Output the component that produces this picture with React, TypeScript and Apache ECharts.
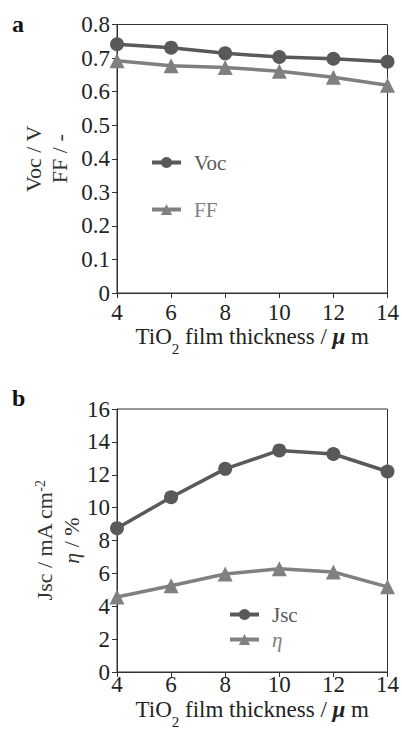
import React, { useEffect, useRef } from "react";
import * as echarts from "echarts";

const thickness = [4, 6, 8, 10, 12, 14];
const vocValues = [0.741, 0.731, 0.714, 0.703, 0.698, 0.689];
const ffValues = [0.692, 0.677, 0.672, 0.661, 0.643, 0.619];
const jscValues = [8.75, 10.63, 12.36, 13.48, 13.26, 12.2];
const etaValues = [4.56, 5.25, 5.96, 6.28, 6.08, 5.18];

const SERIF = "Liberation Serif";
const DARK = "#595959";
const LIGHT = "#808080";
const AXIS = "#333333";
const TEXT = "#222222";

function pairs(xs: number[], ys: number[]) {
  return xs.map((x, i) => [x, ys[i]]);
}

const xTitleRich = {
  t: { fontFamily: SERIF, fontSize: 23, color: TEXT, verticalAlign: "top", lineHeight: 24 },
  sub: { fontFamily: SERIF, fontSize: 15, color: TEXT, verticalAlign: "top", lineHeight: 15, padding: [16, 0, 0, 0] },
  mu: { fontFamily: SERIF, fontSize: 23, fontStyle: "italic", fontWeight: "bold", color: TEXT, verticalAlign: "top", lineHeight: 24 },
};

const xAxisBase = (gridIndex: number, labelMargin: number, nameGap: number) => ({
  type: "value",
  gridIndex,
  min: 4,
  max: 14,
  interval: 2,
  name: "{t|TiO}{sub|2}{t| film thickness / }{mu|μ}{t| m}",
  nameLocation: "middle",
  nameGap,
  nameMoveOverlap: false,
  nameTextStyle: {
    fontFamily: SERIF,
    fontSize: 23,
    color: TEXT,
    rich: xTitleRich,
  },
  axisLine: { show: true, lineStyle: { color: AXIS, width: 1 } },
  axisTick: { show: true, inside: false, length: 5, lineStyle: { color: AXIS } },
  axisLabel: { fontFamily: SERIF, fontSize: 23, lineHeight: 18, color: TEXT, margin: labelMargin },
  splitLine: { show: false },
});

const yAxisBase = (gridIndex: number, max: number, interval: number, name: string, nameGap: number, lineHeight: number, rich: any) => ({
  type: "value",
  gridIndex,
  min: 0,
  max,
  interval,
  name,
  nameLocation: "middle",
  nameRotate: 90,
  nameGap,
  nameMoveOverlap: false,
  nameTextStyle: {
    fontFamily: SERIF,
    fontSize: 22,
    color: "#333",
    lineHeight,
    rich,
  },
  axisLine: { show: true, lineStyle: { color: AXIS, width: 1 } },
  axisTick: { show: true, inside: false, length: 5, lineStyle: { color: AXIS } },
  axisLabel: { fontFamily: SERIF, fontSize: 23, color: TEXT, margin: 7 },
  splitLine: { show: false },
});

export default function App() {
  const ref = useRef<HTMLDivElement>(null);
  useEffect(() => {
    if (!ref.current) return;
    const chart = echarts.init(ref.current, undefined, { renderer: "svg" });
    const lineSeries = (name: string, data: number[], color: string, symbol: string, idx: number) => ({
      name,
      type: "line",
      xAxisIndex: idx,
      yAxisIndex: idx,
      data: pairs(thickness, data),
      symbol,
      symbolSize: symbol === "circle" ? 14 : 15,
      lineStyle: { color, width: 3.5 },
      itemStyle: { color, borderWidth: 0 },
      z: 3,
    });
    chart.setOption({
      animation: false,
      backgroundColor: "#ffffff",
      textStyle: { fontFamily: SERIF },
      grid: [
        { left: 117, right: 14, top: 24.5, height: 268.5, show: true, borderColor: AXIS, borderWidth: 1, backgroundColor: "transparent" },
        { left: 117, right: 14, top: 409, height: 271, show: true, borderColor: AXIS, borderWidth: 1, backgroundColor: "transparent" },
      ],
      xAxis: [xAxisBase(0, 10, 32), xAxisBase(1, 3.5, 26)],
      yAxis: [
        yAxisBase(0, 0.8, 0.1, "Voc / V\nFF / -", 45, 26, {}),
        yAxisBase(1, 16, 2, "{t|Jsc / mA cm}{sup|-2}\n{it|η}{t| / %}", 30, 27, {
          t: { fontFamily: SERIF, fontSize: 22, color: "#333", lineHeight: 27, verticalAlign: "top" },
          sup: { fontFamily: SERIF, fontSize: 14, color: "#333", verticalAlign: "top", lineHeight: 8 },
          it: { fontFamily: SERIF, fontSize: 22, fontStyle: "italic", color: "#333", lineHeight: 27, verticalAlign: "top" },
        }),
      ],
      legend: [
        {
          orient: "vertical",
          left: 145,
          top: 147,
          itemWidth: 29,
          itemHeight: 14,
          itemGap: 26,
          lineStyle: { width: 4 },
          data: [
            { name: "Voc", textStyle: { color: DARK } },
            { name: "FF", textStyle: { color: LIGHT } },
          ],
          textStyle: { fontFamily: SERIF, fontSize: 21, padding: [0, 0, 0, 8] },
        },
        {
          orient: "vertical",
          left: 223,
          top: 599,
          itemWidth: 29,
          itemHeight: 14,
          itemGap: 4,
          lineStyle: { width: 4 },
          data: [
            { name: "Jsc", textStyle: { color: DARK } },
            { name: "η", textStyle: { color: LIGHT, fontStyle: "italic" } },
          ],
          textStyle: { fontFamily: SERIF, fontSize: 21, padding: [0, 0, 0, 8] },
        },
      ],
      graphic: [
        { type: "text", left: 12, top: 12, style: { text: "a", fontFamily: SERIF, fontSize: 24, fontWeight: "bold", fill: "#111" } },
        { type: "text", left: 12, top: 386, style: { text: "b", fontFamily: SERIF, fontSize: 24, fontWeight: "bold", fill: "#111" } },
      ],
      series: [
        lineSeries("Voc", vocValues, DARK, "circle", 0),
        lineSeries("FF", ffValues, LIGHT, "triangle", 0),
        lineSeries("Jsc", jscValues, DARK, "circle", 1),
        lineSeries("η", etaValues, LIGHT, "triangle", 1),
      ],
    });
    return () => chart.dispose();
  }, []);
  return <div ref={ref} style={{ position: "fixed", left: 0, top: 0, width: 402, height: 730 }} />;
}
